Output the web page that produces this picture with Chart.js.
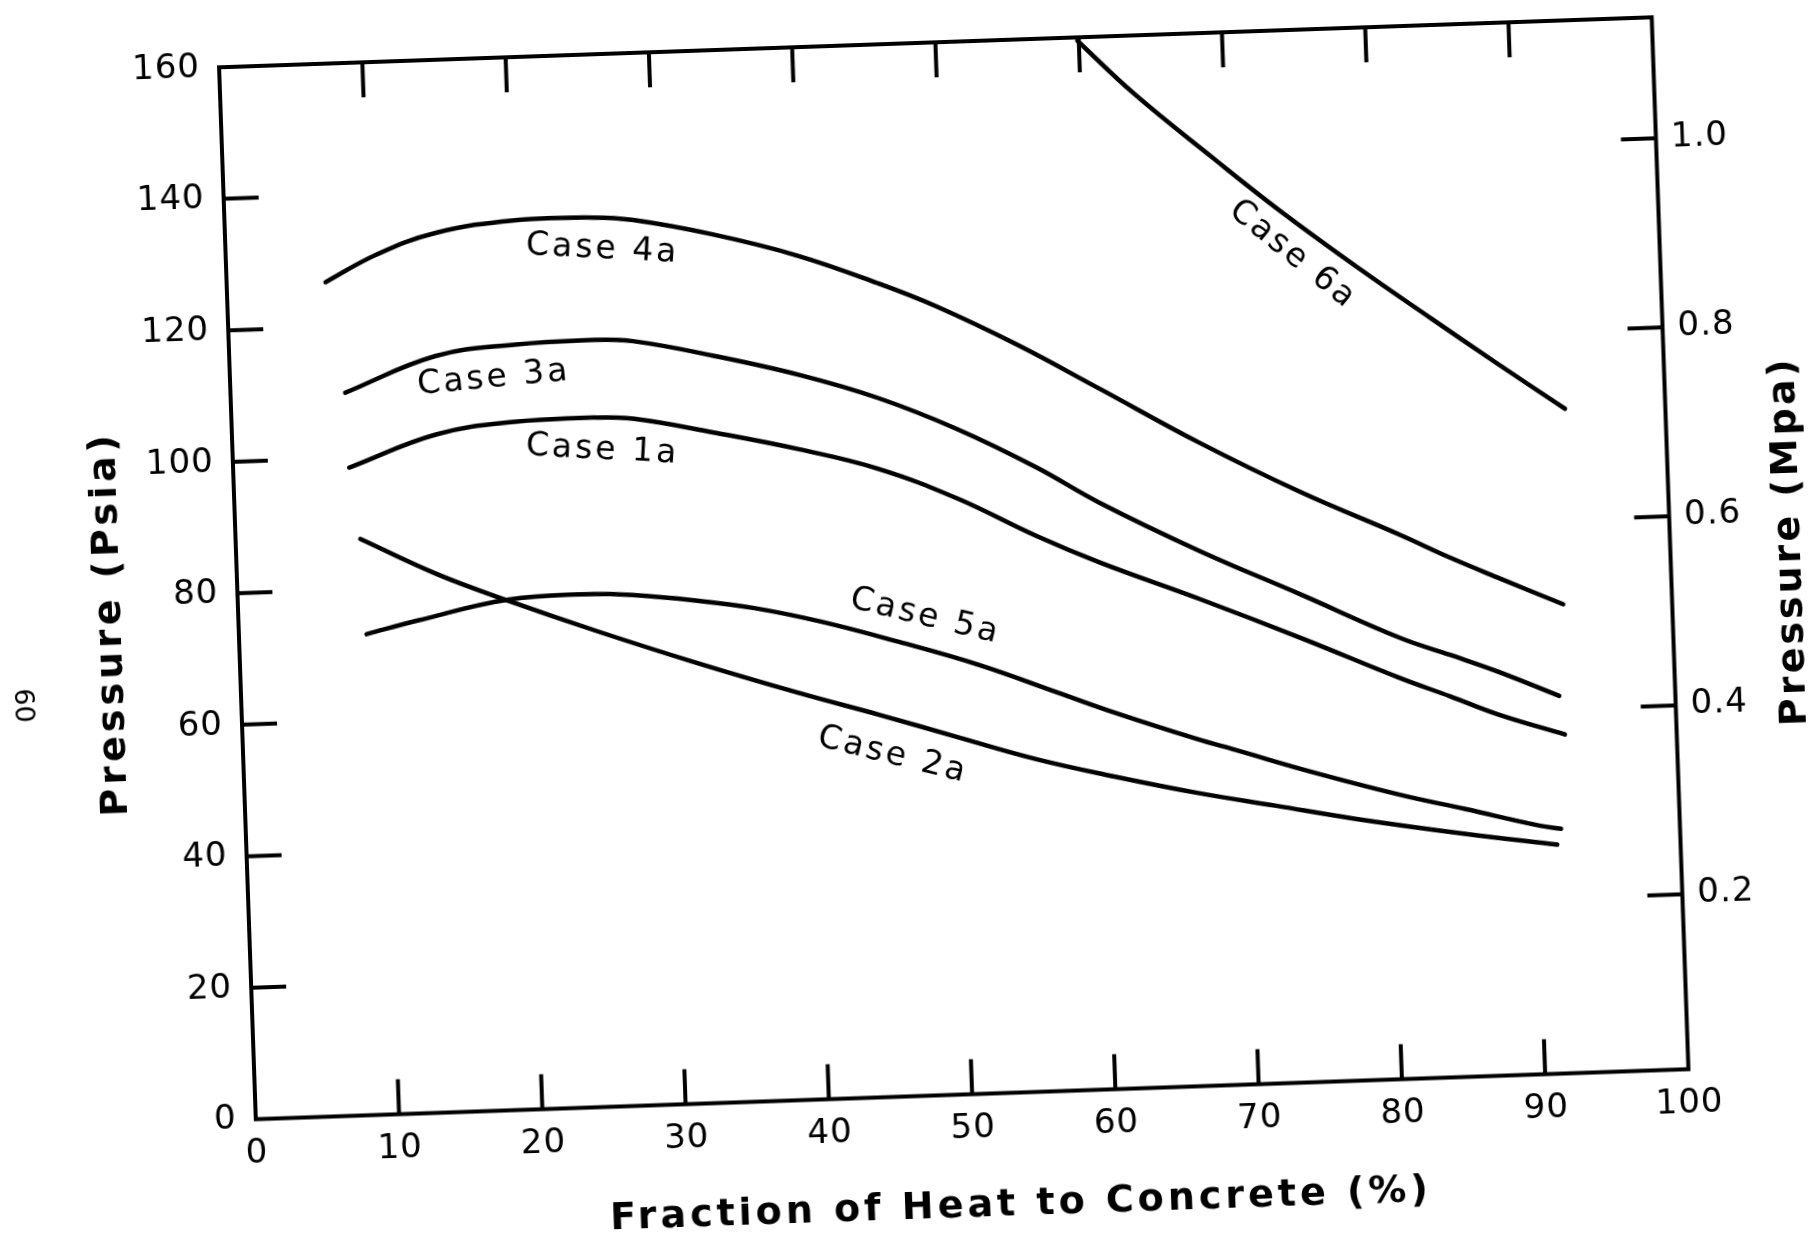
<!DOCTYPE html>
<html>
<head>
<meta charset="utf-8">
<script src="https://cdn.jsdelivr.net/npm/chart.js@4.4.1/dist/chart.umd.min.js"></script>
<style>
  html, body { margin: 0; padding: 0; background: #fff; overflow: hidden; }
  #wrap { width: 1818px; height: 1233px; }
  /* the scanned figure sits about 2 degrees off square */
  #plot { transform: rotate(-2deg); transform-origin: 954px 568px; }
</style>
</head>
<body>
<div id="wrap"><canvas id="plot" width="1818" height="1233"></canvas></div>
<script>
// fraction of heat to concrete (%) , pressure (psia)
const case1a = [[8.1,98.5],[14.3,103.1],[19.8,104.6],[25.3,104.8],[28.1,104.4],[33.6,101.9],[39.5,98.9],[45.0,95.5],[50.4,90.6],[55.9,84.4],[60.2,80.1],[67.1,74.0],[74.0,67.6],[80.9,60.9],[84.3,57.9],[87.6,54.9],[92.2,51.5]];
const case2a = [[8.7,87.6],[14.0,81.8],[18.9,77.4],[24.9,72.4],[31.7,67.1],[39.0,61.8],[44.5,58.1],[49.9,54.3],[55.4,50.5],[60.9,47.4],[66.4,44.6],[71.9,42.2],[77.4,39.8],[85.1,36.9],[91.4,34.8]];
const case3a = [[8.0,109.9],[14.4,115.0],[19.9,116.3],[25.5,116.6],[28.2,116.2],[33.7,113.6],[39.7,110.2],[45.1,106.3],[50.6,101.1],[56.0,94.9],[60.3,89.2],[67.2,81.3],[74.1,74.2],[81.0,67.0],[84.4,64.2],[87.7,61.4],[91.9,57.4]];
const case4a = [[6.9,126.8],[10.5,130.7],[14.7,133.7],[20.2,135.2],[25.7,135.2],[28.5,134.6],[34.0,132.0],[39.9,128.3],[45.4,123.7],[49.4,119.9],[54.9,113.7],[60.6,106.5],[67.4,97.8],[74.3,89.8],[81.2,82.7],[84.6,79.0],[88.1,75.5],[92.4,71.3]];
const case5a = [[8.9,73.1],[12.5,74.9],[18.9,77.6],[24.9,78.0],[27.7,77.6],[31.8,76.5],[36.0,75.0],[40.6,72.6],[46.0,69.1],[51.5,65.2],[56.9,60.6],[61.0,57.1],[66.5,52.8],[69.2,50.9],[74.7,47.0],[80.6,43.2],[85.1,40.7],[90.2,37.8],[91.7,37.2]];
const case6a = [[59.9,159.5],[63.7,151.2],[69.1,140.9],[73.6,132.6],[79.1,123.2],[83.9,115.4],[88.4,108.2],[93.0,101.0]];

const caseNames = ['Case 1a', 'Case 2a', 'Case 3a', 'Case 4a', 'Case 5a', 'Case 6a'];
const caseSeries = [case1a, case2a, case3a, case4a, case5a, case6a];
// where each case name is written: [% , psia , tilt in degrees]
const nameSpots = [[25.8,99.8,5],[45.3,51.9,16],[18.4,111.3,-3.5],[26.3,130.3,5],[47.9,72.8,15.5],[74.4,125.8,41]];

const mpaTicks = [0.2, 0.4, 0.6, 0.8, 1.0];

const FONT = '"DejaVu Sans", "Liberation Sans", sans-serif';
const INK = '#000';

// inward tick marks and the closed frame
const frameTicks = {
  id: 'frameTicks',
  afterDatasetsDraw(chart) {
    const { ctx, chartArea: a } = chart;
    const sx = chart.scales.x, sy = chart.scales.y, sy2 = chart.scales.y2;
    const len = 35;
    ctx.save();
    ctx.strokeStyle = INK;
    ctx.lineWidth = 4;
    ctx.lineCap = 'butt';
    ctx.beginPath();
    ctx.rect(a.left, a.top, a.right - a.left, a.bottom - a.top);
    sx.ticks.forEach(t => {
      if (t.value <= sx.min || t.value >= sx.max) return;
      const px = sx.getPixelForValue(t.value);
      ctx.moveTo(px, a.bottom); ctx.lineTo(px, a.bottom - len);
      ctx.moveTo(px, a.top); ctx.lineTo(px, a.top + len);
    });
    sy.ticks.forEach(t => {
      if (t.value <= sy.min || t.value >= sy.max) return;
      const py = sy.getPixelForValue(t.value);
      ctx.moveTo(a.left, py); ctx.lineTo(a.left + len, py);
    });
    sy2.ticks.forEach(t => {
      const py = sy2.getPixelForValue(t.value);
      ctx.moveTo(a.right, py); ctx.lineTo(a.right - len, py);
    });
    ctx.stroke();
    ctx.restore();
  }
};

// case names along the curves
const caseNotes = {
  id: 'caseNotes',
  afterDatasetsDraw(chart) {
    const { ctx } = chart;
    const sx = chart.scales.x, sy = chart.scales.y;
    ctx.save();
    ctx.font = '33px ' + FONT;
    ctx.letterSpacing = '3px';
    ctx.fillStyle = INK;
    ctx.textAlign = 'center';
    ctx.textBaseline = 'middle';
    caseNames.forEach((name, i) => {
      const [vx, vy, deg] = nameSpots[i];
      ctx.save();
      ctx.translate(sx.getPixelForValue(vx), sy.getPixelForValue(vy));
      ctx.rotate(deg * Math.PI / 180);
      ctx.fillText(name, 0, 0);
      ctx.restore();
    });
    ctx.restore();
  }
};

// axis titles and the page number
const titles = {
  id: 'titles',
  beforeDraw(chart) {
    chart.ctx.letterSpacing = '1px';
  },
  afterDraw(chart) {
    const { ctx, chartArea: a } = chart;
    const midX = (a.left + a.right) / 2, midY = (a.top + a.bottom) / 2;
    ctx.save();
    ctx.fillStyle = INK;
    ctx.textAlign = 'center';
    ctx.textBaseline = 'middle';
    ctx.font = 'bold 38px ' + FONT;
    ctx.letterSpacing = '4px';
    ctx.fillText('Fraction of Heat to Concrete (%)', midX + 45, a.bottom + 113);

    ctx.save();
    ctx.translate(a.left - 128, midY + 26);
    ctx.rotate(-Math.PI / 2);
    ctx.fillText('Pressure (Psia)', 0, 0);
    ctx.restore();

    ctx.save();
    ctx.letterSpacing = '3px';
    ctx.translate(a.right + 120, midY + 2);
    ctx.rotate(-Math.PI / 2);
    ctx.fillText('Pressure (Mpa)', 0, 0);
    ctx.restore();

    ctx.save();
    ctx.font = '27px ' + FONT;
    ctx.letterSpacing = '0px';
    ctx.translate(18, 673);
    ctx.rotate(Math.PI / 2);
    ctx.fillText('60', 0, 0);
    ctx.restore();
    ctx.restore();
  }
};

const tickFont = { family: FONT, size: 34 };

new Chart(document.getElementById('plot'), {
  type: 'line',
  data: {
    datasets: caseSeries.map((s, i) => ({
      label: caseNames[i],
      data: s.map(p => ({ x: p[0], y: p[1] })),
      borderColor: INK,
      borderWidth: 4.5,
      borderCapStyle: 'round',
      borderJoinStyle: 'round',
      pointRadius: 0,
      fill: false,
      tension: 0.4,
      yAxisID: 'y'
    }))
  },
  options: {
    responsive: false,
    animation: false,
    devicePixelRatio: 1,
    layout: { padding: { top: 42, left: 0, right: 0, bottom: 0 } },
    plugins: {
      legend: { display: false },
      tooltip: { enabled: false }
    },
    scales: {
      x: {
        type: 'linear',
        min: 0,
        max: 100,
        grid: { display: false, drawTicks: false },
        border: { display: false },
        ticks: { stepSize: 10, color: INK, font: tickFont, padding: 14, maxRotation: 0 },
        afterFit(scale) { scale.height = 138.5; }
      },
      y: {
        position: 'left',
        min: 0,
        max: 160,
        grid: { display: false, drawTicks: false },
        border: { display: false },
        ticks: { stepSize: 20, color: INK, font: tickFont, padding: 19 },
        afterFit(scale) { scale.width = 237; }
      },
      y2: {
        position: 'right',
        min: 0.015,
        max: 1.128,
        grid: { display: false, drawTicks: false },
        border: { display: false },
        afterBuildTicks(scale) { scale.ticks = mpaTicks.map(v => ({ value: v })); },
        ticks: { color: INK, font: tickFont, padding: 15, callback: v => v.toFixed(1) },
        afterFit(scale) { scale.width = 147.5; }
      }
    }
  },
  plugins: [frameTicks, caseNotes, titles]
});
</script>
</body>
</html>
